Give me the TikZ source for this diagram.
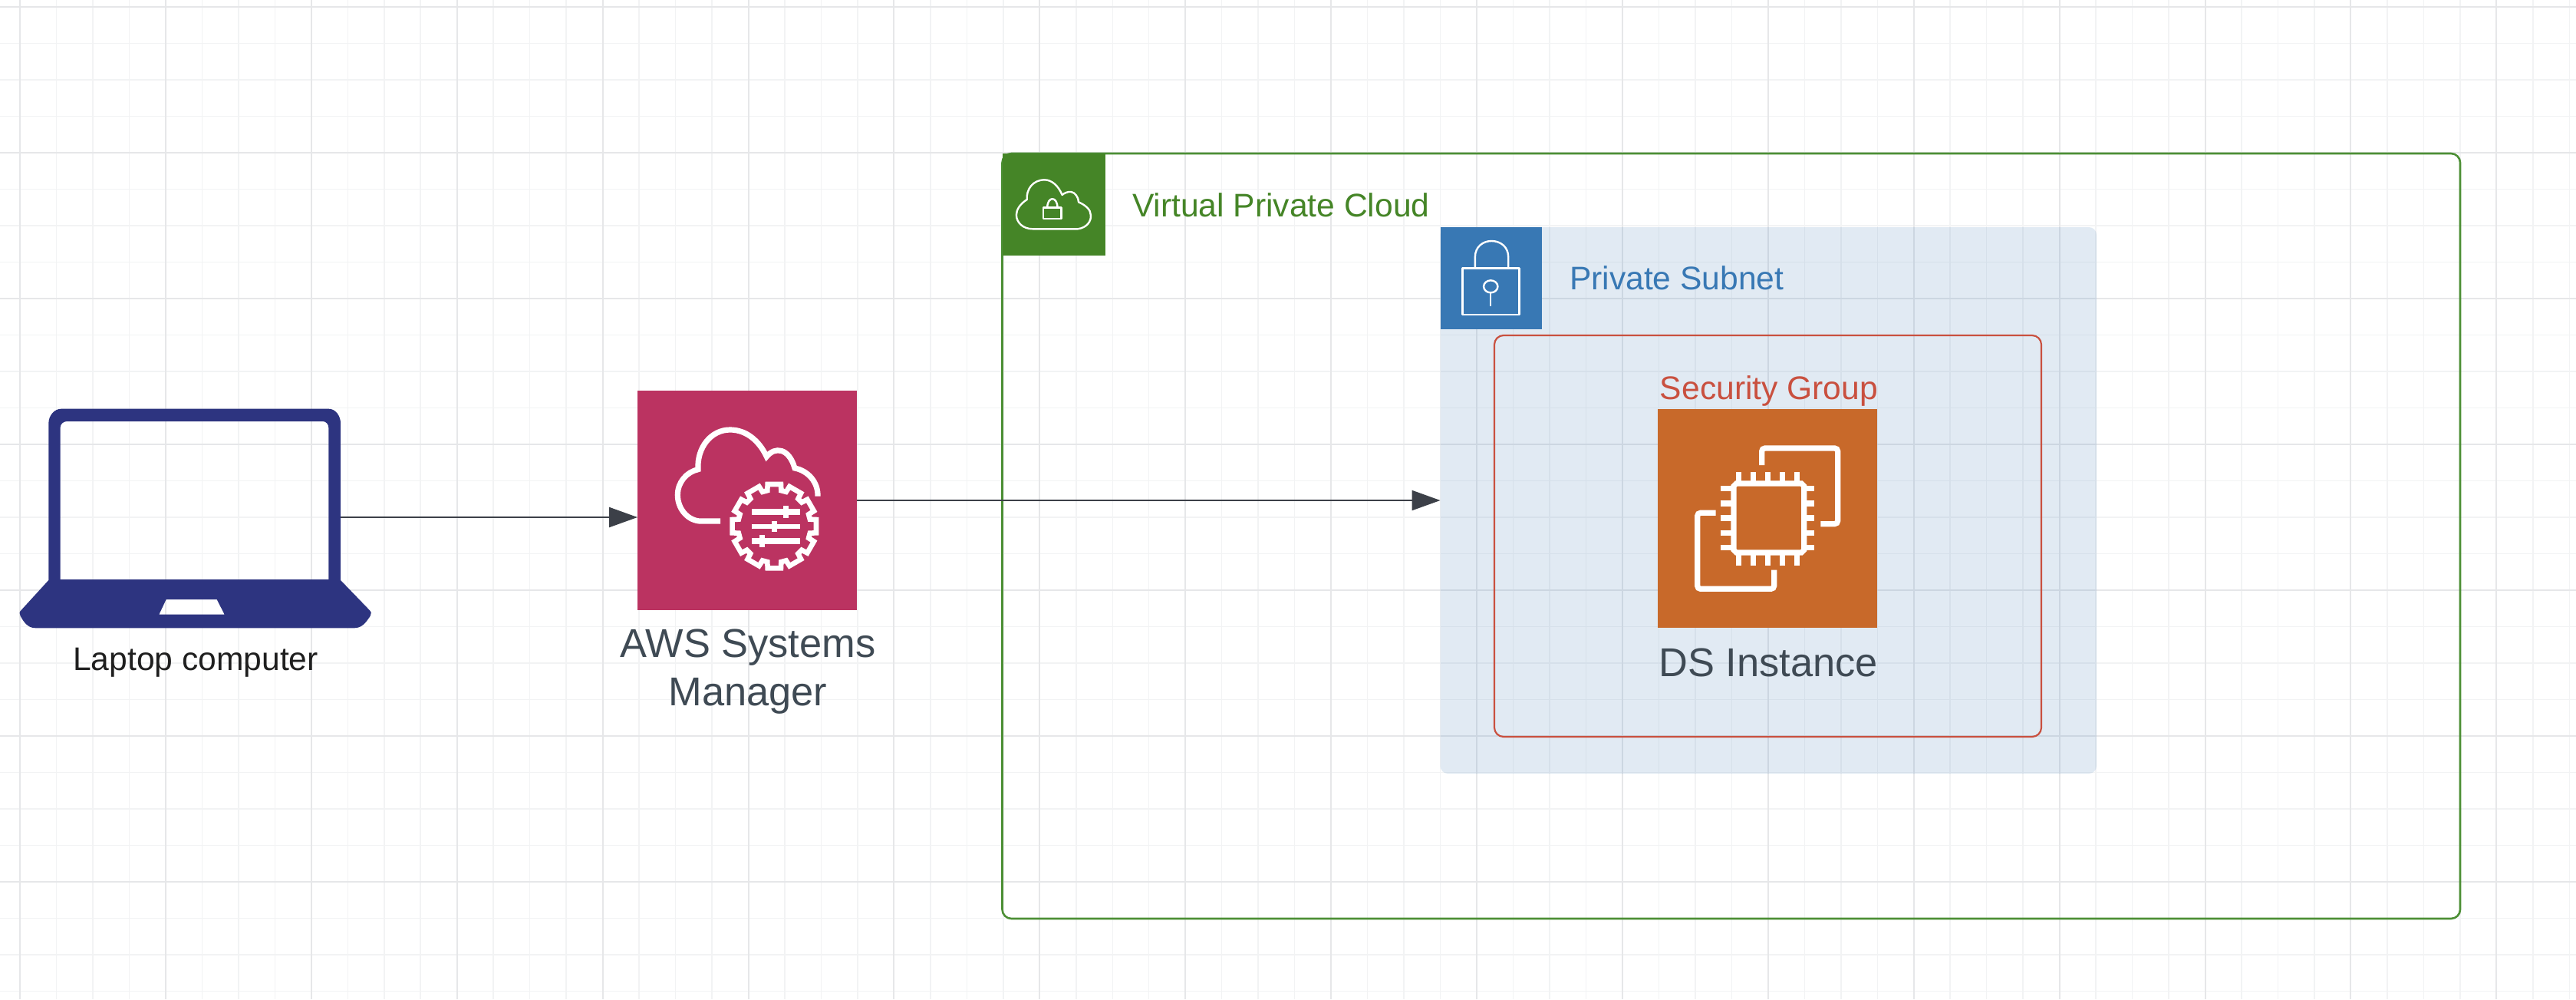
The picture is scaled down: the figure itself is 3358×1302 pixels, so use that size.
\documentclass[tikz,border=0pt]{standalone}
\usepackage{fontspec}
\setmainfont{Liberation Sans}
\usetikzlibrary{arrows.meta}
\definecolor{gridmajor}{HTML}{E6E7E9}
\definecolor{gridminor}{HTML}{F2F3F4}
\definecolor{laptopblue}{HTML}{2D3480}
\definecolor{ssmred}{HTML}{BB3361}
\definecolor{vpcgreen}{HTML}{458527}
\definecolor{vpcline}{HTML}{4C8F35}
\definecolor{subblue}{HTML}{3878B4}
\definecolor{ecorange}{HTML}{C8692A}
\definecolor{sgred}{HTML}{C9503F}
\definecolor{awstext}{HTML}{3F4A54}
\definecolor{arrowgrey}{HTML}{3C4048}
\tikzset{
  box/.style={inner sep=0pt,outer sep=0pt},
  iconline/.style={draw=white,line width=3.6pt,line join=miter},
  thinicon/.style={draw=white,line width=1.2pt,line join=round},
  flow/.style={draw=arrowgrey,line width=1.1pt,-{Triangle[length=18.5pt,width=13pt,fill=arrowgrey]}},
  lbl/.style={inner sep=0pt,outer sep=0pt},
  big/.style={font=\fontsize{26.2}{31.8}\selectfont,text=awstext},
  small/.style={font=\fontsize{21.3}{26}\selectfont},
}
\begin{document}
\begin{tikzpicture}[x=0.5pt,y=-0.5pt]
\useasboundingbox (0,0) rectangle (3358,1302);
\fill[white] (0,0) rectangle (3358,1302);
% grid
\foreach \k in {0,...,70} {
  \pgfmathsetmacro\xx{26+47.475*\k}
  \draw[gridminor,line width=.75pt] (\xx,0) -- (\xx,1302);
}
\foreach \k in {0,...,27} {
  \pgfmathsetmacro\yy{9+47.5*\k}
  \draw[gridminor,line width=.75pt] (0,\yy) -- (3358,\yy);
}
\foreach \k in {0,4,...,68} {
  \pgfmathsetmacro\xx{26+47.475*\k}
  \draw[gridmajor,line width=1pt] (\xx,0) -- (\xx,1302);
}
\foreach \k in {0,4,...,24} {
  \pgfmathsetmacro\yy{9+47.5*\k}
  \draw[gridmajor,line width=1pt] (0,\yy) -- (3358,\yy);
}
% containers
\node[box,draw=vpcline,line width=1.3pt,rounded corners=6pt,minimum width=950.25pt,minimum height=498.5pt] (vpc) at (2256.75,698.5) {};
\node[box,fill=subblue,fill opacity=.15,rounded corners=5pt,minimum width=427.75pt,minimum height=356pt] (subnet) at (2305.25,652) {};
\node[box,draw=sgred,line width=1.1pt,rounded corners=6pt,minimum width=356.5pt,minimum height=261.5pt] (sg) at (2304.5,698.5) {};
% header icons
\node[box,fill=vpcgreen,minimum width=67.25pt,minimum height=66.5pt] (vpcicon) at (1373.75,266.5) {};
\node[box,fill=subblue,minimum width=66pt,minimum height=66.5pt] (subicon) at (1943.5,362.5) {};
\node[box,fill=ssmred,minimum width=143pt,minimum height=143pt] (ssm) at (974,652) {};
\node[box,fill=ecorange,minimum width=143pt,minimum height=142.5pt] (ec2) at (2304,675.5) {};
\node[box,minimum width=190.5pt,minimum height=141pt] (laptop) at (253.5,674) {};
% laptop drawing
\begin{scope}[shift={(0,480)},xscale=1/3,yscale=1/3]
\fill[laptopblue,even odd rule]
  (190,828) -- (190,215) .. controls (190,185) and (212,158) .. (240,158)
  -- (1285,158) .. controls (1312,158) and (1332,185) .. (1332,215)
  -- (1332,828) -- (1445,945) .. controls (1453,952) and (1453,960) .. (1448,968)
  .. controls (1430,995) and (1415,1015) .. (1385,1015)
  -- (140,1015) .. controls (110,1015) and (95,995) .. (80,968)
  .. controls (75,960) and (75,952) .. (83,945) -- cycle
  (236,825) -- (236,230) .. controls (236,218) and (248,207) .. (262,207)
  -- (1262,207) .. controls (1275,207) and (1285,218) .. (1285,232) -- (1285,825) -- cycle
  (650,903) -- (848,903) -- (878,962) -- (622,962) -- cycle;
\end{scope}
% SSM icon
\begin{scope}[shift={(780,480)},xscale=1/3,yscale=1/3]
\draw[iconline,line cap=butt]
  (477,597) -- (395,597) .. controls (345,592) and (310,545) .. (310,495)
  .. controls (310,445) and (345,405) .. (390,395)
  .. controls (385,310) and (440,240) .. (515,240)
  .. controls (580,240) and (630,285) .. (658,345)
  .. controls (690,305) and (745,310) .. (768,390)
  .. controls (820,400) and (860,445) .. (858,500);
\begin{scope}[shift={(688,617)}]
\draw[iconline,line width=3.3pt] (-11:142)
  \foreach \a in {0,30,...,330} { -- (\a-11:142) -- (\a-9:166) -- (\a+9:166) -- (\a+11:142) } -- cycle;
\end{scope}
\draw[iconline,line width=3.6pt] (600,561) -- (790,561);
\draw[iconline,line width=3pt] (600,617) -- (790,617);
\draw[iconline,line width=3.6pt] (600,675) -- (790,675);
\fill[white] (722,537) rectangle (745,584);
\fill[white] (677,597) rectangle (699,638);
\fill[white] (630,651) rectangle (652,698);
\end{scope}
% VPC icon
\begin{scope}[shift={(1280,180)},xscale=1/1.96,yscale=1/3]
\draw[thinicon]
  (130,355) -- (245,355) .. controls (268,350) and (280,325) .. (278,300)
  .. controls (278,280) and (265,262) .. (247,250)
  .. controls (247,232) and (238,212) .. (228,210)
  .. controls (220,208) and (210,215) .. (205,222)
  .. controls (195,185) and (178,163) .. (160,163)
  .. controls (130,163) and (113,200) .. (115,240)
  .. controls (97,258) and (88,280) .. (88,300)
  .. controls (88,330) and (105,355) .. (130,355) -- cycle;
\draw[thinicon] (157,272) rectangle (203,315);
\draw[thinicon] (167,272) .. controls (167,226) and (193,226) .. (193,272);
\end{scope}
% subnet icon
\begin{scope}[shift={(1280,180)},xscale=1/1.96,yscale=1/3]
\draw[thinicon] (1228,508) rectangle (1373,690);
\draw[thinicon] (1260,505) -- (1260,465) .. controls (1260,425) and (1280,402) .. (1302,402)
  .. controls (1325,402) and (1345,425) .. (1345,465) -- (1345,505);
\draw[thinicon] (1300,580) ellipse [x radius=18,y radius=24];
\draw[thinicon] (1300,604) -- (1300,657);
\end{scope}
% EC2 icon
\begin{scope}[shift={(2130,520)},xscale=1/3,yscale=1/3]
\draw[iconline] (400,330) -- (655,330) -- (665,340) -- (665,590) -- (655,600) -- (400,600) -- (390,590) -- (390,340) -- cycle;
\draw[iconline,rounded corners=2pt] (500,258) -- (500,192) -- (797,192) -- (797,488) -- (730,488);
\draw[iconline,rounded corners=2pt] (320,445) -- (248,445) -- (248,742) -- (548,742) -- (548,668);
\foreach \p in {410,467,523,580,638} {
  \draw[iconline] (\p,285) -- (\p,330);
  \draw[iconline] (\p,600) -- (\p,650);
}
\foreach \p in {350,408,465,523,580} {
  \draw[iconline] (338,\p) -- (390,\p);
  \draw[iconline] (665,\p) -- (705,\p);
}
\end{scope}
% connectors
\draw[flow] (laptop.east) -- (laptop.east -| ssm.west);
\draw[flow] (ssm.east) -- (subnet.west);
% labels
\node[lbl,anchor=base,font=\fontsize{21.3}{25}\selectfont,text=black!88] (laptoplabel) at (255,873) {Laptop computer};
\node[lbl,big,align=center] (ssmlabel) at (975,875) {AWS Systems\\Manager};
\node[lbl,small,anchor=base west,text=vpcgreen] (vpclabel) at (1476,282) {Virtual Private Cloud};
\node[lbl,small,anchor=base west,text=subblue] (sublabel) at (2046,377) {Private Subnet};
\node[lbl,small,anchor=base,text=sgred] (sglabel) at (2306,520) {Security Group};
\node[lbl,big,anchor=base] (eclabel) at (2305,881) {DS Instance};
\end{tikzpicture}
\end{document}
